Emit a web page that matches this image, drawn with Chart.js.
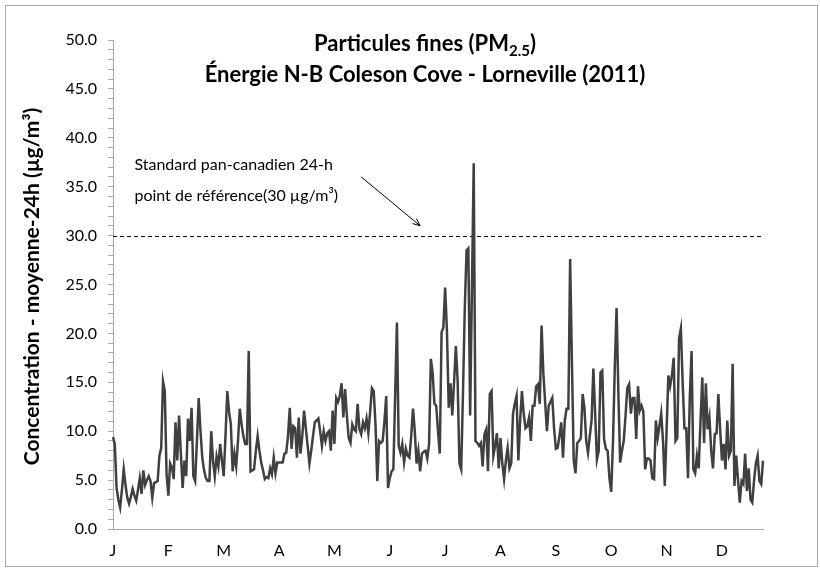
<!DOCTYPE html>
<html>
<head>
<meta charset="utf-8">
<script src="https://cdn.jsdelivr.net/npm/chart.js@4.4.1/dist/chart.umd.min.js"></script>
<style>
html, body { margin: 0; padding: 0; background: #fff; }
</style>
</head>
<body>
<canvas id="myChart" width="820" height="568"></canvas>
<script>
// libellés des mois (une étiquette tous les 31 jours, comme dans Excel)
var months = ['J', 'F', 'M', 'A', 'M', 'J', 'J', 'A', 'S', 'O', 'N', 'D'];

// moyennes 24h de PM2.5 (µg/m3), une valeur par jour, 2011
var pm25 = [
  9.4, 8.7, 4.2, 3.0, 2.2, 4.0, 6.1, 4.5, 3.2, 2.6,
  3.3, 4.1, 3.4, 2.9, 4.0, 5.2, 3.6, 6.0, 4.5, 5.0,
  5.4, 4.9, 3.2, 4.7, 4.8, 4.9, 7.5, 8.3, 15.1, 14.1,
  5.6, 3.4, 6.7, 6.3, 5.1, 10.9, 7.0, 11.6, 7.7, 4.2,
  7.0, 5.4, 11.3, 9.0, 12.4, 5.4, 4.9, 9.0, 13.4, 10.0,
  7.3, 6.0, 5.2, 4.9, 4.9, 10.0, 7.0, 5.4, 7.4, 6.4,
  8.7, 7.0, 5.4, 9.5, 14.1, 12.0, 10.7, 5.9, 7.7, 6.4,
  9.0, 12.3, 10.7, 9.5, 8.7, 8.7, 18.2, 5.9, 6.0, 6.1,
  8.0, 9.5, 8.0, 6.8, 6.0, 5.1, 5.3, 5.2, 6.2, 5.6,
  7.3, 5.7, 6.8, 6.8, 6.8, 6.8, 7.7, 7.8, 9.5, 12.4,
  8.2, 10.5, 10.3, 7.3, 11.4, 7.7, 9.5, 12.1, 10.3, 8.5,
  6.7, 8.0, 9.5, 10.9, 11.1, 11.3, 10.0, 8.5, 10.0, 9.0,
  9.8, 10.0, 8.0, 12.1, 8.7, 13.4, 13.0, 13.6, 14.9, 11.4,
  14.3, 11.5, 9.3, 8.8, 10.7, 10.2, 10.0, 12.8, 10.2, 9.7,
  10.9, 10.3, 11.3, 9.8, 12.0, 14.4, 14.1, 10.7, 4.9, 9.0,
  8.8, 9.0, 11.0, 13.6, 4.2, 5.2, 5.9, 6.1, 13.6, 21.1,
  8.5, 7.8, 8.7, 6.8, 8.2, 7.5, 7.3, 9.5, 12.3, 10.0,
  6.7, 8.0, 5.9, 7.7, 7.9, 8.0, 7.2, 8.7, 17.4, 16.0,
  12.8, 12.6, 10.0, 7.7, 20.1, 20.6, 24.7, 20.3, 12.4, 14.9,
  11.6, 15.0, 18.7, 15.1, 6.7, 6.1, 14.0, 22.6, 28.5, 28.7,
  11.6, 24.5, 37.4, 9.0, 8.8, 8.5, 8.8, 6.4, 9.7, 10.2,
  5.9, 13.8, 14.1, 7.5, 8.5, 9.8, 6.2, 9.3, 6.7, 5.1,
  7.0, 8.3, 6.2, 6.7, 11.8, 12.8, 13.6, 7.0, 11.1, 14.1,
  11.8, 10.3, 10.5, 11.4, 9.0, 12.6, 12.6, 14.6, 14.8, 12.8,
  20.8, 15.9, 13.0, 10.0, 12.6, 13.0, 13.4, 10.3, 8.2, 8.3,
  9.5, 10.9, 7.3, 11.1, 12.3, 12.3, 27.6, 17.0, 7.0, 5.7,
  8.8, 9.0, 9.3, 13.8, 12.4, 9.0, 7.8, 9.5, 11.1, 16.4,
  11.8, 7.1, 8.0, 16.0, 16.2, 9.2, 8.2, 8.0, 5.2, 3.8,
  9.0, 16.5, 22.6, 14.0, 6.8, 8.0, 9.0, 11.5, 14.4, 14.8,
  11.8, 13.4, 13.4, 9.2, 14.6, 12.1, 12.6, 12.0, 6.1, 7.2,
  7.2, 7.0, 5.2, 5.1, 11.1, 9.3, 10.5, 11.8, 9.0, 4.4,
  10.0, 15.7, 14.6, 15.7, 17.5, 9.0, 9.3, 19.5, 20.5, 15.0,
  10.3, 10.3, 5.2, 13.4, 18.2, 6.1, 5.7, 7.5, 6.2, 11.0,
  15.5, 8.8, 14.9, 10.2, 11.4, 8.0, 6.2, 9.7, 9.8, 13.8,
  10.2, 7.0, 8.7, 6.1, 11.1, 7.5, 8.0, 16.9, 4.4, 7.5,
  5.0, 2.7, 4.9, 4.6, 7.7, 3.9, 6.2, 3.0, 2.7, 5.0,
  6.7, 7.5, 4.9, 4.6, 7.0
];

var days = pm25.map(function (v, i) { return i + 1; });

var standard = 30;          // point de référence 24-h
var yMin = 0, yMax = 50, yStep = 1, yLabelStep = 5;

var titleLine1 = 'Particules fines (PM';
var titleSub = '2.5';
var titleLine2 = 'Énergie N-B Coleson Cove - Lorneville (2011)';
var yTitle = 'Concentration - moyenne-24h (µg/m³)';
var noteLine1 = 'Standard pan-canadien 24-h';
var noteLine2 = 'point de référence(30 µg/m³)';

var FONT = 'Lato, "Open Sans", sans-serif';

var decor = {
  id: 'decor',
  beforeDatasetsDraw: function (chart) {
    var ctx = chart.ctx, a = chart.chartArea, y = chart.scales.y;
    var yy = Math.round(y.getPixelForValue(standard)) + 0.5;
    ctx.save();
    ctx.strokeStyle = '#000';
    ctx.lineWidth = 1;
    ctx.setLineDash([4, 3]);
    ctx.beginPath();
    ctx.moveTo(a.left, yy);
    ctx.lineTo(a.right, yy);
    ctx.stroke();
    ctx.restore();
  },
  afterDraw: function (chart) {
    var ctx = chart.ctx, a = chart.chartArea;
    var x = chart.scales.x, y = chart.scales.y;
    ctx.save();

    // cadre du graphique
    ctx.strokeStyle = '#a6a6a6';
    ctx.lineWidth = 1;
    ctx.strokeRect(5.5, 5.5, 812, 561);

    // titre avec indice
    ctx.fillStyle = '#000';
    ctx.textBaseline = 'alphabetic';
    ctx.textAlign = 'left';
    var big = 'bold 22px ' + FONT, small = 'bold 15px ' + FONT;
    ctx.font = big;
    var w1 = ctx.measureText(titleLine1).width;
    var w3 = ctx.measureText(')').width;
    ctx.font = small;
    var w2 = ctx.measureText(titleSub).width;
    var cx = 425;
    var x0 = cx - (w1 + w2 + w3) / 2;
    ctx.font = big;
    ctx.fillText(titleLine1, x0, 51);
    ctx.font = small;
    ctx.fillText(titleSub, x0 + w1, 56);
    ctx.font = big;
    ctx.fillText(')', x0 + w1 + w2, 51);
    ctx.textAlign = 'center';
    ctx.fillText(titleLine2, cx, 82);

    // titre de l'axe Y
    ctx.save();
    ctx.translate(32, (a.top + a.bottom) / 2 + 2);
    ctx.rotate(-Math.PI / 2);
    ctx.font = 'bold 21px ' + FONT;
    ctx.textBaseline = 'middle';
    ctx.fillText(yTitle, 0, 0);
    ctx.restore();

    // note + flèche
    ctx.textAlign = 'left';
    ctx.textBaseline = 'middle';
    ctx.font = '16px ' + FONT;
    var tx = x.getPixelForValue(12);
    ctx.fillText(noteLine1, tx, y.getPixelForValue(37.2));
    ctx.fillText(noteLine2, tx, y.getPixelForValue(34.1));

    var sx = x.getPixelForValue(139), sy = y.getPixelForValue(36.0);
    var ex = x.getPixelForValue(172), ey = y.getPixelForValue(31.0);
    ctx.strokeStyle = '#000';
    ctx.lineWidth = 1;
    ctx.beginPath();
    ctx.moveTo(sx, sy);
    ctx.lineTo(ex, ey);
    ctx.stroke();
    var ang = Math.atan2(ey - sy, ex - sx);
    ctx.beginPath();
    ctx.moveTo(ex, ey);
    ctx.lineTo(ex - 8 * Math.cos(ang - 0.4), ey - 8 * Math.sin(ang - 0.4));
    ctx.moveTo(ex, ey);
    ctx.lineTo(ex - 8 * Math.cos(ang + 0.4), ey - 8 * Math.sin(ang + 0.4));
    ctx.stroke();

    ctx.restore();
  }
};

var ctx = document.getElementById('myChart').getContext('2d');
var myChart = new Chart(ctx, {
  type: 'line',
  data: {
    labels: days,
    datasets: [{
      label: 'PM2.5',
      data: pm25,
      borderColor: '#404040',
      borderWidth: 2.5,
      pointRadius: 0,
      tension: 0,
      fill: false
    }]
  },
  options: {
    responsive: false,
    animation: false,
    devicePixelRatio: 1,
    layout: { padding: { left: 0, right: 57, top: 40, bottom: 0 } },
    plugins: {
      legend: { display: false },
      title: { display: false },
      tooltip: { enabled: false }
    },
    scales: {
      x: {
        type: 'category',
        offset: false,
        grid: { display: false, drawTicks: false },
        border: { display: true, color: '#a6a6a6', width: 1 },
        ticks: {
          autoSkip: false,
          maxRotation: 0,
          padding: 12,
          color: '#000',
          font: { family: FONT, size: 16 },
          callback: function (val, index) {
            return index % 31 === 0 ? months[index / 31] : '';
          }
        },
        afterFit: function (scale) { scale.height = 39; }
      },
      y: {
        min: yMin,
        max: yMax,
        grid: { drawOnChartArea: false, drawTicks: true, tickLength: 5, color: '#a6a6a6' },
        border: { display: true, color: '#a6a6a6', width: 1 },
        ticks: {
          stepSize: yStep,
          autoSkip: false,
          padding: 11,
          color: '#000',
          font: { family: FONT, size: 16 },
          callback: function (v) {
            return v % yLabelStep === 0 ? v.toFixed(1) : '';
          }
        },
        afterFit: function (scale) { scale.width = 113; }
      }
    }
  },
  plugins: [decor]
});
</script>
</body>
</html>
